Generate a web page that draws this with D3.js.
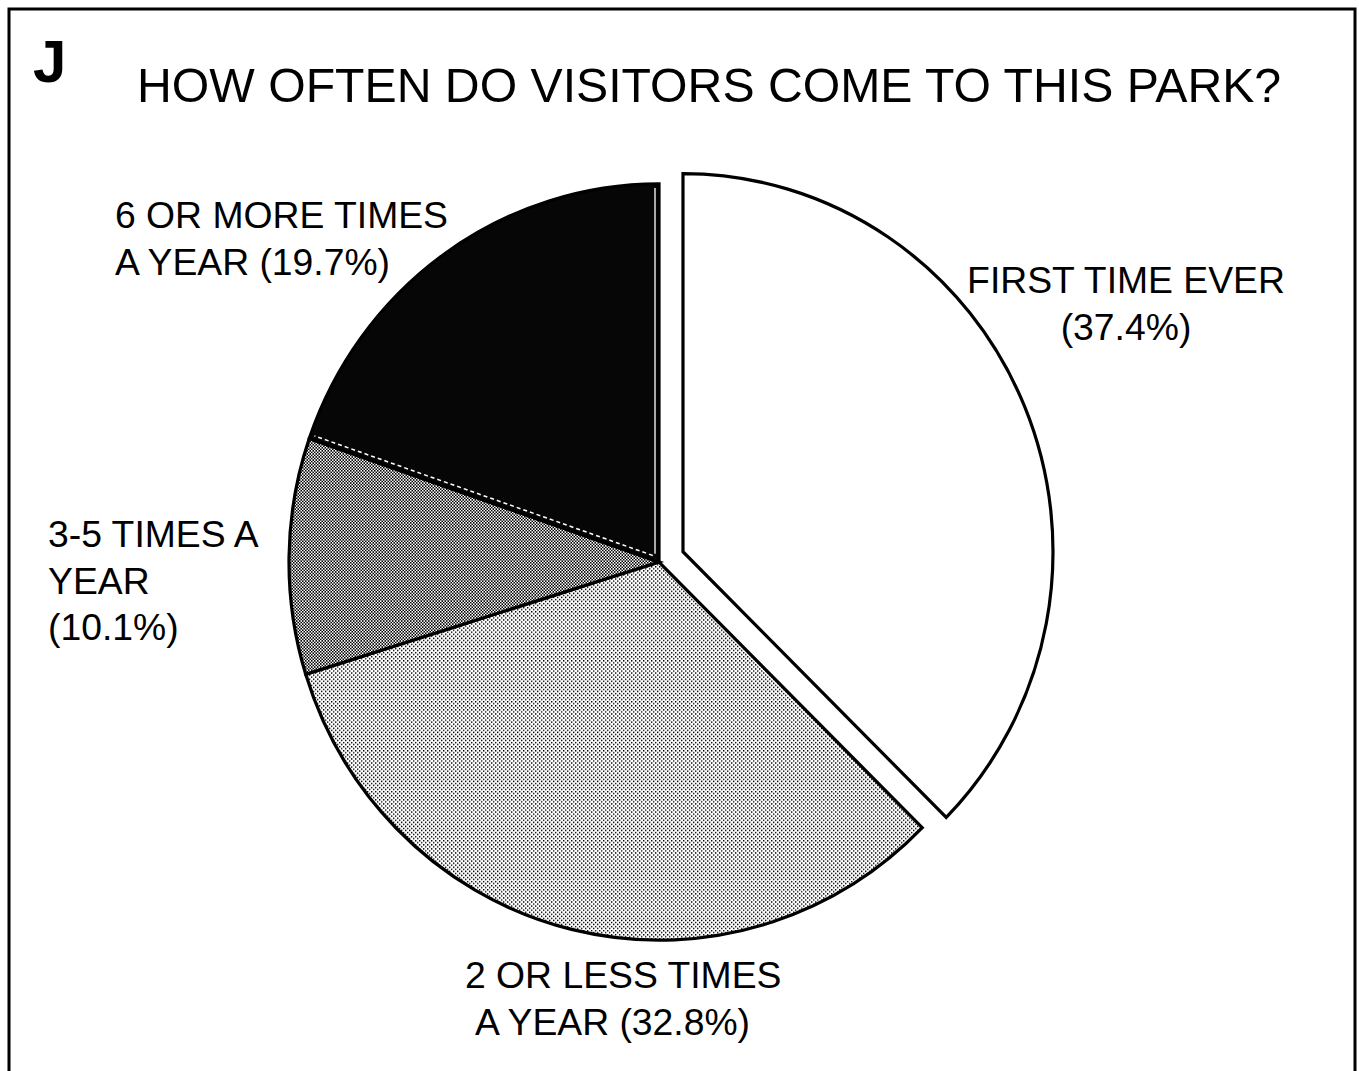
<!DOCTYPE html>
<html>
<head>
<meta charset="utf-8">
<script src="https://cdn.jsdelivr.net/npm/d3@7/dist/d3.min.js"></script>
<style>
  html, body { margin: 0; padding: 0; background: #fff; }
  svg { display: block; }
  text { font-family: "Liberation Sans", Arial, Helvetica, sans-serif; fill: #000; }
</style>
</head>
<body>
<svg id="chart" width="1359" height="1071"></svg>
<script>
// ---- data ----
const categories = ["FIRST TIME EVER", "2 OR LESS TIMES A YEAR", "3-5 TIMES A YEAR", "6 OR MORE TIMES A YEAR"];
const values = [37.4, 32.8, 10.1, 19.7];
const labelLines = [
  ["FIRST TIME EVER", "(37.4%)"],
  ["2 OR LESS TIMES", "A YEAR (32.8%)"],
  ["3-5 TIMES A", "YEAR", "(10.1%)"],
  ["6 OR MORE TIMES", "A YEAR (19.7%)"]
];
const panelLetter = "J";
const titleText = "HOW OFTEN DO VISITORS COME TO THIS PARK?";

// ---- layout ----
const svg = d3.select("#chart");
const cx = 659, cy = 562, r = 370, yScale = 1.022, explode = 26;

const defs = svg.append("defs");
const light = defs.append("pattern").attr("id", "lightDots")
  .attr("patternUnits", "userSpaceOnUse").attr("width", 4).attr("height", 4);
light.append("rect").attr("width", 4).attr("height", 4).attr("fill", "#fff");
light.append("rect").attr("x", 0).attr("y", 0).attr("width", 1.4).attr("height", 1.4).attr("fill", "#000");
light.append("rect").attr("x", 2).attr("y", 2).attr("width", 1.4).attr("height", 1.4).attr("fill", "#000");

const mid = defs.append("pattern").attr("id", "midDots")
  .attr("patternUnits", "userSpaceOnUse").attr("width", 3).attr("height", 3);
mid.append("rect").attr("width", 3).attr("height", 3).attr("fill", "#fff");
mid.append("rect").attr("x", 0).attr("y", 0).attr("width", 1.5).attr("height", 1.5).attr("fill", "#000");
mid.append("rect").attr("x", 1.5).attr("y", 1.5).attr("width", 1.5).attr("height", 1.5).attr("fill", "#000");

const fills = ["#ffffff", "url(#lightDots)", "url(#midDots)", "#060606"];

// frame
svg.append("rect").attr("x", 9).attr("y", 9).attr("width", 1346).attr("height", 1100)
  .attr("fill", "none").attr("stroke", "#000").attr("stroke-width", 3);

// letter + title
svg.append("text").attr("x", 33).attr("y", 82).attr("font-size", 60).attr("font-weight", "bold").text(panelLetter);
svg.append("text").attr("x", 137).attr("y", 102).attr("font-size", 48.2).text(titleText);

// pie
const pie = d3.pie().sort(null).value(d => d).startAngle(0).endAngle(2 * Math.PI);
const arcs = pie(values);
const arc = d3.arc().innerRadius(0).outerRadius(r);

const g = svg.append("g").attr("transform", `translate(${cx},${cy}) scale(1,${yScale})`);
g.selectAll("path.slice").data(arcs).enter().append("path")
  .attr("class", "slice")
  .attr("d", arc)
  .attr("transform", (d, i) => {
    if (i !== 0) return null;
    const a = (d.startAngle + d.endAngle) / 2;
    return `translate(${Math.sin(a) * explode},${-Math.cos(a) * explode})`;
  })
  .attr("fill", (d, i) => fills[i])
  .attr("stroke", "#000")
  .attr("stroke-width", 3.2)
  .attr("stroke-linejoin", "miter");

// thin white inner edges along the dark slice's radial sides
const dark = arcs[3];
const inset = 4;
function edgeLine(angle, side) {
  // offset perpendicular to the radius, into the dark slice
  const ux = Math.sin(angle), uy = -Math.cos(angle);
  const px = -uy * side * inset, py = ux * side * inset;
  return [[px + ux * 8, py + uy * 8], [px + ux * (r - 4), py + uy * (r - 4)]];
}
const endEdge = edgeLine(dark.endAngle, -1);
g.append("line")
  .attr("x1", endEdge[0][0]).attr("y1", endEdge[0][1])
  .attr("x2", endEdge[1][0]).attr("y2", endEdge[1][1])
  .attr("stroke", "#fff").attr("stroke-width", 1.3);
const startEdge = edgeLine(dark.startAngle, 1);
g.append("line")
  .attr("x1", startEdge[0][0]).attr("y1", startEdge[0][1])
  .attr("x2", startEdge[1][0]).attr("y2", startEdge[1][1])
  .attr("stroke", "#fff").attr("stroke-width", 1.5).attr("stroke-dasharray", "4,3");

// labels
const labelPos = [
  {x: 1126, y: 293, anchor: "middle"},
  {x: 465, y: 988, anchor: "start", dx2: 10},
  {x: 48, y: 547, anchor: "start"},
  {x: 115, y: 228, anchor: "start"}
];
const lineH = 46.5;
labelLines.forEach((lines, i) => {
  const p = labelPos[i];
  const t = svg.append("text").attr("font-size", 37.3).attr("text-anchor", p.anchor);
  lines.forEach((ln, j) => {
    t.append("tspan")
      .attr("x", p.x + (j > 0 && p.dx2 ? p.dx2 : 0))
      .attr("y", p.y + j * lineH)
      .text(ln);
  });
});
</script>
</body>
</html>
